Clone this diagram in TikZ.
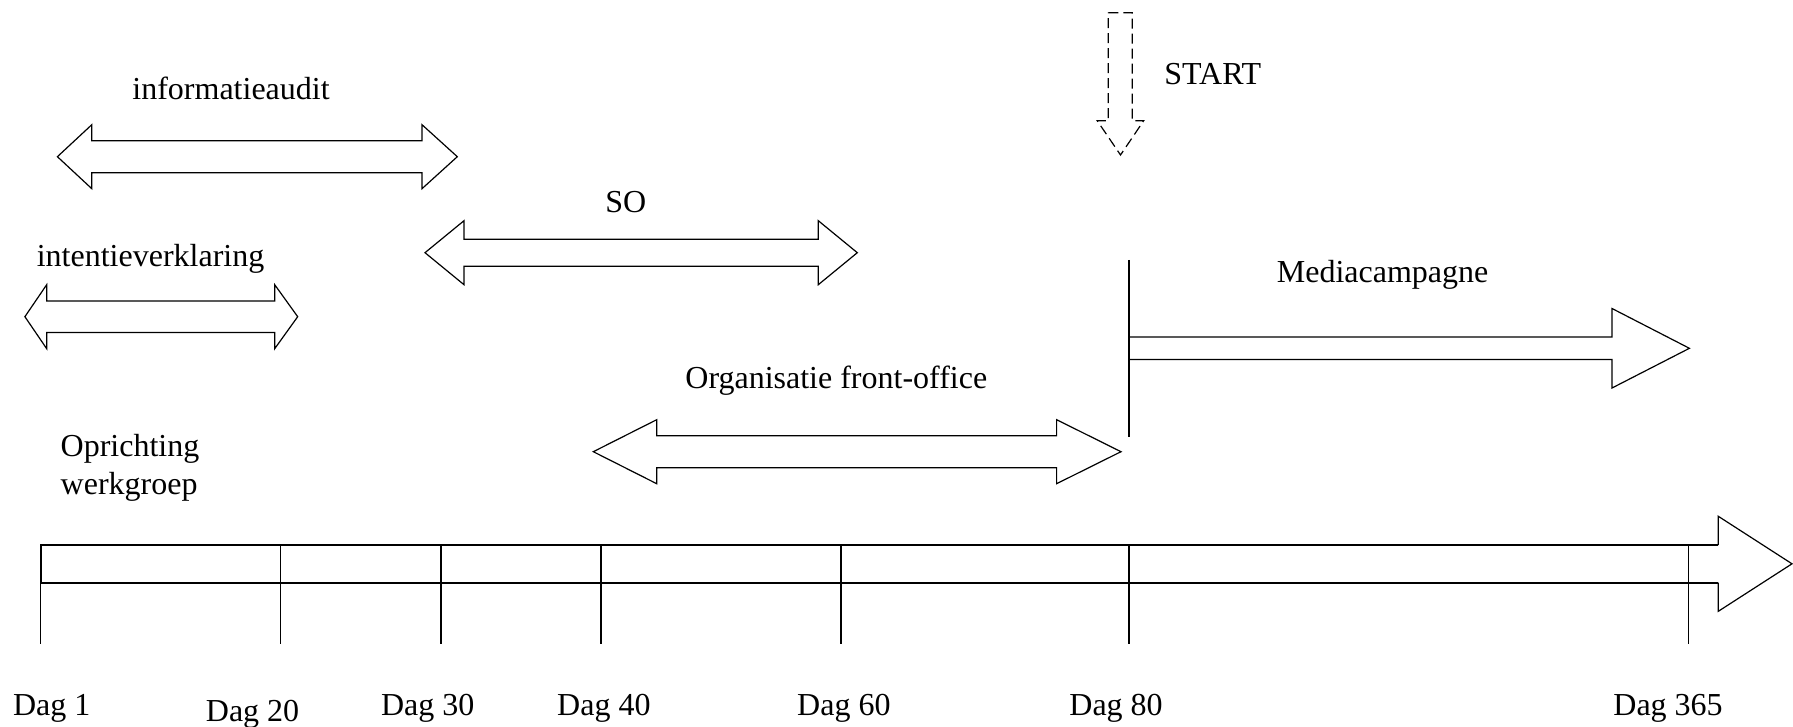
\documentclass[tikz,border=0pt]{standalone}
\usepackage{fontspec}
\setmainfont{Liberation Serif}
% double-headed block arrow: tip left, base left, base right, tip right, centre y, head half-height, shaft half-height
\newcommand\twowayarrow[7]{%
  \draw[shape line] (#1,#5) -- (#2,#5-#6) -- (#2,#5-#7) -- (#3,#5-#7) -- (#3,#5-#6)
    -- (#4,#5) -- (#3,#5+#6) -- (#3,#5+#7) -- (#2,#5+#7) -- (#2,#5+#6) -- cycle;}
\begin{document}
\begin{tikzpicture}[x=0.5pt,y=-0.5pt,
  shape line/.style={draw=black,line width=0.6pt,line join=miter},
  axis line/.style={draw=black,line width=0.9pt},
  start line/.style={shape line,dash pattern=on 5pt off 2.5pt},
  label text/.style={inner sep=0pt,anchor=base west,font=\fontsize{16}{19}\selectfont}]
\useasboundingbox (0,0) rectangle (1793,727);

% phase arrows
\twowayarrow{57.4}{91.8}{422}{457.3}{156.7}{32}{16}
\twowayarrow{24.9}{46.7}{274.7}{297.7}{316.7}{32}{15.8}
\twowayarrow{425}{464}{818.3}{857.3}{252.7}{32}{13.5}
\twowayarrow{593.3}{656.7}{1056.6}{1121}{451.7}{32}{16}

% start marker
\draw[start line] (1108.3,12.7) -- (1132.3,12.7) -- (1132.3,120.7) -- (1143.7,120.7)
  -- (1120.5,155) -- (1097.2,120.7) -- (1108.3,120.7) -- cycle;

% media campaign
\draw[shape line] (1129,260) -- (1129,436.7);
\draw[shape line] (1129,337) -- (1612,337) -- (1612,308.5) -- (1689.4,348.3)
  -- (1612,388) -- (1612,359.5) -- (1129,359.5);

% time axis
\draw[axis line] (40.8,582.7) -- (40.8,545) -- (1718.3,545);
\draw[axis line] (40.8,582.7) -- (1718.3,582.7);
\draw[shape line] (1718.3,545) -- (1718.3,516.3) -- (1792,563.8) -- (1718.3,611.3) -- (1718.3,582.7);
\draw[shape line] (40.8,582.7) -- (40.8,644);
\foreach \tx in {280.7,440.9,601,841,1129,1688.7}
  \draw[shape line] (\tx,545) -- (\tx,644);

% labels
\node[label text] (infoaudit) at (132,99.3) {informatieaudit};
\node[label text] (intentie) at (36.4,266.7) {intentieverklaring};
\node[label text] (so) at (605,213) {SO};
\node[label text] (start) at (1164,85) {START};
\node[label text] (media) at (1276.5,283) {Mediacampagne};
\node[label text] (frontoffice) at (685,388.3) {Organisatie front-office};
\node[label text] (oprichting) at (60.3,456.7) {Oprichting};
\node[label text] (werkgroep) at (60.3,494) {werkgroep};

\node[label text] (d1) at (12.6,715) {Dag 1};
\node[label text] (d20) at (205.5,721.7) {Dag 20};
\node[label text] (d30) at (380.6,715) {Dag 30};
\node[label text] (d40) at (556.8,715) {Dag 40};
\node[label text] (d60) at (796.8,715) {Dag 60};
\node[label text] (d80) at (1069,715) {Dag 80};
\node[label text] (d365) at (1613,715) {Dag 365};
\end{tikzpicture}
\end{document}
